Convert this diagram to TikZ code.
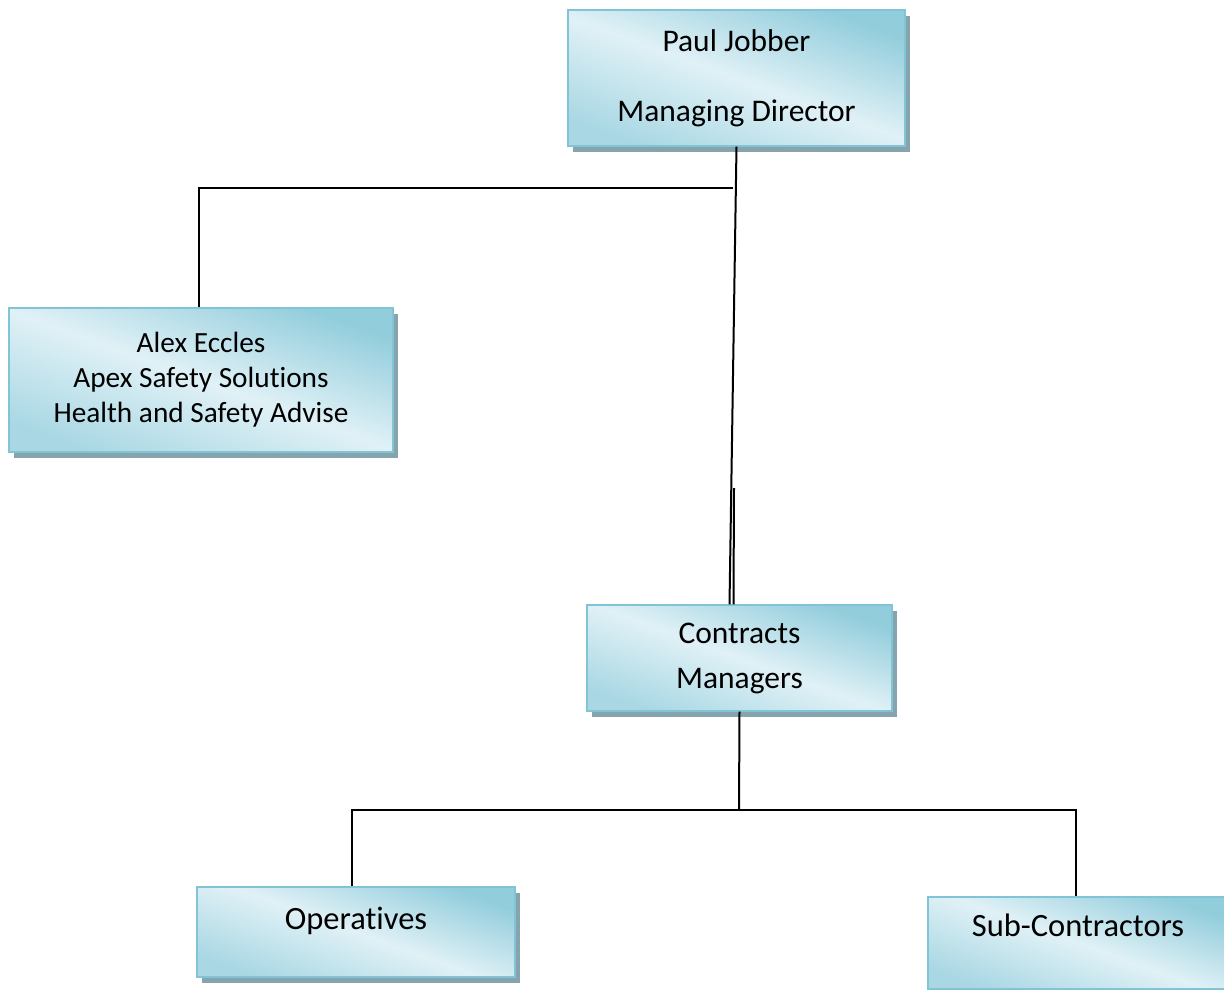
\documentclass[tikz,border=0pt]{standalone}
\usepackage{fontspec}
\setmainfont{Carlito}[Ligatures=NoCommon]
\usepackage{xcolor}
\usetikzlibrary{shadows}
\definecolor{AquaDark}{RGB}{146,205,220}
\definecolor{AquaLight}{RGB}{224,241,246}
\definecolor{AquaEdge}{RGB}{128,196,214}
\definecolor{ShadowGrey}{RGB}{134,164,174}

\begin{document}
\begin{tikzpicture}[
  x=1pt, y=-1pt,
  font=\fontsize{31.5}{36}\selectfont,
  orgbox/.style={draw=AquaEdge, line width=1.2pt, align=center, inner sep=0pt,
    top color=AquaDark, bottom color=AquaDark!70!AquaLight, middle color=AquaLight,
    shading angle=-20,
    drop shadow={shadow xshift=5pt, shadow yshift=-6pt, fill=ShadowGrey, opacity=1}},
  director/.style={orgbox, minimum width=337pt, minimum height=136pt},
  adviser/.style={orgbox, minimum width=384pt, minimum height=144pt,
    font=\fontsize{29.3}{35}\selectfont},
  managers/.style={orgbox, minimum width=305pt, minimum height=106pt},
  workers/.style={orgbox, minimum width=318pt, minimum height=90pt, text height=22pt,
    font=\fontsize{32.5}{36}\selectfont},
  link/.style={line width=2pt}
]
  \useasboundingbox (0,0) rectangle (1224,989);

  \node[director] (pj) at (736.5,78) {Paul Jobber\\[34pt]Managing Director};
  \node[adviser] (ae) at (201,380) {Alex Eccles\\Apex Safety Solutions\\Health and Safety Advise};
  \node[managers] (cm) at (739.5,658) {Contracts\\[9pt]Managers};
  \node[workers, text depth=28pt] (op) at (356,932) {Operatives};
  \node[workers, minimum width=300pt, minimum height=92pt, text depth=36pt] (sc) at (1078,943) {Sub-Contractors};

  \coordinate (branch) at (733,188);
  \coordinate (joint) at (734,488);
  \coordinate (fork) at (739,810);

  \draw[link] (pj.south) -- ([xshift=-10pt]cm.north);
  \draw[link] (joint) -- ([xshift=-6pt]cm.north);
  \draw[link] (branch) -| ([xshift=-2pt]ae.north);
  \draw[link] (cm.south) -- (fork);
  \draw[link] ([xshift=-4pt]op.north) |- (fork) -| ([xshift=-2pt]sc.north);
\end{tikzpicture}
\end{document}
